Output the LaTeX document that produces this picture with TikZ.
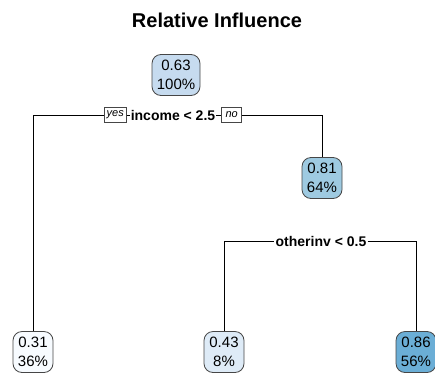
\documentclass[tikz,border=0pt]{standalone}
\usepackage{fontspec}
\setmainfont{Liberation Sans}
\usepackage{xcolor}
\definecolor{BlueA}{RGB}{198,219,239}
\definecolor{BlueB}{RGB}{158,202,225}
\definecolor{BlueC}{RGB}{247,251,255}
\definecolor{BlueD}{RGB}{222,235,247}
\definecolor{BlueE}{RGB}{107,174,214}
\definecolor{EdgeGray}{RGB}{70,70,70}
\usetikzlibrary{positioning}

\begin{document}
\begin{tikzpicture}[
    x=1pt, y=1pt,
    every node/.style={font=\fontsize{15}{19}\selectfont},
    leaf/.style={rectangle, draw=EdgeGray, line width=0.8pt, rounded corners=9pt,
        minimum width=40pt, minimum height=41pt, inner xsep=4pt, inner ysep=2pt, align=center},
    split/.style={fill=white, inner xsep=1pt, inner ysep=1pt, font=\fontsize{14}{16}\selectfont\bfseries},
    tag/.style={draw=EdgeGray, line width=0.5pt, fill=white, inner xsep=2.5pt, inner ysep=2pt,
        minimum width=20pt, minimum height=15pt, font=\fontsize{11}{12}\selectfont\itshape},
    branch/.style={line width=0.6pt, black},
]
\useasboundingbox (0,0) rectangle (435,376);

% Title
\node[font=\fontsize{20}{24}\selectfont\bfseries] (title) at (217,356) {Relative Influence};

% Nodes
\node[leaf, fill=BlueA, minimum width=48pt] (root) at (176,301) {0.63\\100\%};
\node[leaf, fill=BlueB] (mid) at (322,198) {0.81\\64\%};
\node[leaf, fill=BlueC] (low) at (33,24) {0.31\\36\%};
\node[leaf, fill=BlueD] (center) at (224,24) {0.43\\8\%};
\node[leaf, fill=BlueE] (high) at (416,24) {0.86\\56\%};

% Splits
\node[split] (split1) at (173,261) {income < 2.5};
\node[tag, left=3pt of split1] (yes) {yes};
\node[tag, right=5pt of split1] (no) {no};
\node[split] (split2) at (321,135) {otherinv < 0.5};

% Branches
\draw[branch] (low.north) |- (yes.west);
\draw[branch] (yes.east) -- (split1.west);
\draw[branch] (split1.east) -- (no.west);
\draw[branch] (no.east) -| (mid.north);
\draw[branch] (center.north) |- (split2.west);
\draw[branch] (split2.east) -| (high.north);

\end{tikzpicture}
\end{document}
